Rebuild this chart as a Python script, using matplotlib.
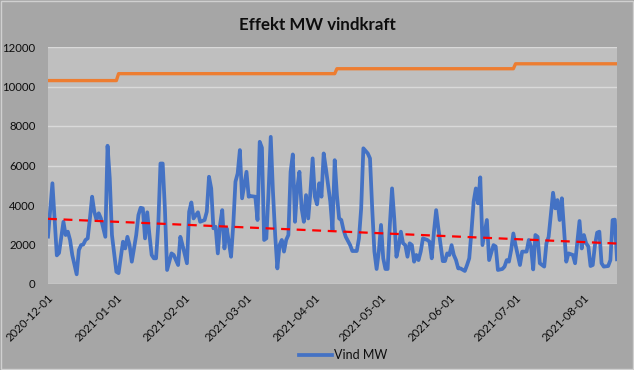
import numpy as np
import matplotlib
matplotlib.use("Agg")
import matplotlib.pyplot as plt
from matplotlib.patches import Rectangle

plt.rcParams['font.family'] = ['Lato', 'DejaVu Sans']

start_date = np.datetime64('2020-12-01')

# Wind power (MW): (days since 2020-12-01, value)
wind_points = [
    (0, 2400), (2, 5100), (4, 1450), (5, 1570), (7, 3150), (8, 2480), (9, 2650), (10, 2230), (11, 1470), (13, 490),
    (14, 1720), (15, 1970), (16, 2000), (17, 2230), (18, 2310), (19, 3320), (20, 4420), (21, 3660), (22, 3240), (23, 3580),
    (24, 3320), (26, 2390), (27, 7000), (28, 5350), (29, 2480), (31, 620), (32, 550), (34, 2140), (35, 1800), (36, 2390),
    (37, 1970), (38, 1130), (40, 2480), (41, 3490), (42, 3860), (43, 3830), (44, 2310), (45, 3630), (46, 2480), (47, 1470),
    (48, 1300), (49, 1300), (50, 2990), (51, 6100), (52, 6100), (53, 3830), (54, 710), (55, 1130), (56, 1550), (57, 1470),
    (59, 960), (60, 2390), (61, 1970), (63, 1050), (64, 3660), (65, 4130), (66, 3320), (68, 3630), (69, 3150), (71, 3240),
    (72, 3660), (73, 5430), (74, 4840), (75, 2820), (76, 2900), (77, 1550), (78, 2990), (79, 3740), (80, 1800), (81, 2820),
    (82, 2140), (83, 1380), (84, 2990), (85, 5180), (86, 5600), (87, 6780), (88, 4340), (90, 5680), (91, 4420), (92, 4450),
    (94, 4420), (95, 3240), (96, 7200), (97, 6900), (98, 2230), (99, 2310), (100, 4670), (101, 7450), (102, 4670), (103, 2480),
    (104, 790), (105, 1970), (106, 2230), (107, 1640), (108, 2230), (109, 2480), (110, 5680), (111, 6560), (112, 3150), (113, 4840),
    (114, 5680), (115, 3830), (116, 3150), (117, 4500), (118, 3320), (119, 4670), (120, 6360), (121, 4420), (122, 4030), (123, 5100),
    (124, 4420), (125, 6610), (126, 5850), (127, 5010), (128, 4170), (129, 2730), (130, 6270), (131, 4500), (132, 3320), (133, 3240),
    (134, 2730), (135, 2390), (137, 1970), (138, 1670), (140, 1670), (141, 2310), (142, 3830), (143, 6870), (145, 6610), (146, 6360),
    (147, 3830), (148, 1640), (149, 760), (150, 1640), (151, 2990), (152, 1300), (153, 760), (154, 760), (155, 2990), (156, 4840),
    (157, 3320), (158, 1380), (159, 1890), (160, 2650), (161, 2060), (162, 1970), (163, 1380), (164, 2060), (165, 1970), (166, 1130),
    (167, 1470), (168, 1210), (169, 1640), (170, 2310), (172, 2230), (173, 2140), (174, 1300), (175, 2650), (176, 3740), (177, 2820),
    (178, 1970), (179, 1160), (180, 1160), (181, 1550), (182, 1470), (183, 1970), (184, 1470), (185, 1210), (186, 790), (187, 790),
    (189, 660), (190, 960), (191, 1300), (192, 2650), (193, 4170), (194, 4840), (195, 4080), (196, 5400), (197, 1970), (199, 3240),
    (200, 1210), (202, 1970), (203, 1900), (204, 710), (206, 760), (207, 880), (208, 1210), (209, 1130), (210, 1720), (211, 2560),
    (212, 1970), (214, 960), (215, 1640), (217, 1640), (218, 2230), (219, 1900), (220, 740), (221, 2480), (222, 2390), (223, 1050),
    (225, 880), (226, 2060), (227, 2390), (229, 4620), (230, 3830), (231, 4250), (232, 3240), (233, 4340), (234, 2730), (235, 1130),
    (236, 1550), (238, 1470), (239, 1050), (241, 3190), (242, 1800), (243, 2480), (244, 2060), (245, 1900), (246, 910), (247, 960),
    (248, 1970), (249, 2600), (250, 2650), (251, 1050), (252, 880), (254, 910), (255, 1210), (256, 3240), (257, 3260), (258, 1250),
]
wind_days = [d for d, _ in wind_points]
wind_mw = [v for _, v in wind_points]

# Installed capacity (MW)
cap_days = [0, 31, 32, 130, 131, 211, 212, 258]
cap_mw = [10300, 10300, 10650, 10650, 10900, 10900, 11150, 11150]

# Linear trend endpoints (MW)
trend_days = [0, 258]
trend_mw = [3300, 2050]

y_ticks = [0, 2000, 4000, 6000, 8000, 10000, 12000]
x_tick_labels = ['2020-12-01', '2021-01-01', '2021-02-01', '2021-03-01', '2021-04-01',
                 '2021-05-01', '2021-06-01', '2021-07-01', '2021-08-01']

title = 'Effekt MW vindkraft'
legend_label = 'Vind MW'


def to_dates(days):
    return start_date + np.array(days).astype('timedelta64[D]')


fig = plt.figure(figsize=(6.34, 3.70), dpi=100, facecolor='#a6a6a6')
ax = fig.add_axes([48/634, 1-284/370, (617-48)/634, (284-47)/370])
ax.set_facecolor('#bfbfbf')

ax.plot(to_dates(cap_days), cap_mw, color='#ed7d31', lw=2.4, solid_capstyle='round')
line_w, = ax.plot(to_dates(wind_days), wind_mw, color='#4472c4', lw=2.7,
                  solid_joinstyle='round', label=legend_label)
ax.plot(to_dates(trend_days), trend_mw, color='#ff0000', lw=1.6, dashes=(4, 3))

ax.set_ylim(0, 12000)
ax.set_yticks(y_ticks)
ax.set_xlim(to_dates([0])[0], to_dates([258])[0])
tick_dates = [np.datetime64(s) for s in x_tick_labels]
ax.set_xticks(tick_dates)
ax.set_xticklabels(x_tick_labels, rotation=45, ha='right', va='top', rotation_mode='anchor')

ax.grid(axis='y', color='#d9d9d9', lw=1.0)
ax.set_axisbelow(True)
for s in ax.spines.values():
    s.set_visible(False)
ax.tick_params(axis='both', length=0, labelsize=8.2, colors='#0d0d0d')
ax.tick_params(axis='y', pad=9)
ax.tick_params(axis='x', pad=6)

fig.text(0.5, 1-25/370, title, ha='center', va='center', fontsize=12.2, fontweight='bold', color='#0d0d0d')

fig.legend(handles=[line_w], loc='center', bbox_to_anchor=(343/634, 1-355/370), frameon=False,
           fontsize=9, handlelength=2.6, handletextpad=0.15, labelcolor='#0d0d0d')

fig.patches.append(Rectangle((0.002, 0.003), 0.996, 0.994, transform=fig.transFigure,
                             fill=False, edgecolor='#d0d0d0', lw=1.0))

fig.savefig('out.png', dpi=100, facecolor=fig.get_facecolor())
